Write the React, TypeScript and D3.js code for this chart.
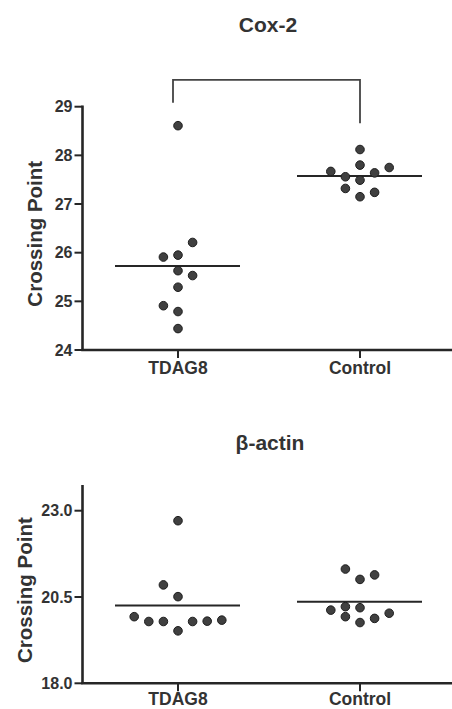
import React from "react";
import * as d3 from "d3";

const groups = ["TDAG8", "Control"];

// Cox-2 crossing points
const coxTDAG8 = [28.61, 26.21, 25.91, 25.95, 25.63, 25.53, 25.29, 24.91, 24.79, 24.44];
const coxTDAG8Slot = [0, 1, -1, 0, 0, 1, 0, -1, 0, 0];
const coxControl = [28.12, 27.8, 27.67, 27.64, 27.75, 27.56, 27.49, 27.32, 27.24, 27.15];
const coxControlSlot = [0, 0, -2, 1, 2, -1, 0, -1, 1, 0];
const coxTicks = [24, 25, 26, 27, 28, 29];

// beta-actin crossing points
const actTDAG8 = [22.71, 20.85, 20.51, 19.93, 19.79, 19.79, 19.52, 19.79, 19.8, 19.83];
const actTDAG8Slot = [0, -1, 0, -3, -2, -1, 0, 1, 2, 3];
const actControl = [21.31, 21.14, 21.01, 20.12, 20.22, 20.19, 20.03, 19.93, 19.88, 19.76];
const actControlSlot = [-1, 1, 0, -2, -1, 0, 2, -1, 1, 0];
const actTicks = [18.0, 20.5, 23.0];

const FONT = "'Liberation Sans', Arial, Helvetica, sans-serif";
const TEXT = "#333";
const AXIS = "#262626";
const SLOT = 14.6;

type PanelProps = {
  title: string;
  titleX: number;
  titleY: number;
  yDomain: [number, number];
  yRange: [number, number];
  axisTop: number;
  ticks: number[];
  tickFmt: (v: number) => string;
  series: { values: number[]; slots: number[] }[];
  yTitleX: number;
  labelY: number;
  bracket?: boolean;
};

function Panel(p: PanelProps) {
  const x = d3.scalePoint<string>().domain(groups).range([178, 360]);
  const y = d3.scaleLinear().domain(p.yDomain).range(p.yRange);
  const axisX = 82.5;
  const y0 = y(p.yDomain[0]);
  const yTitleCenter = (y0 + p.axisTop) / 2 + 6;
  return (
    <g>
      <text x={p.titleX} y={p.titleY} textAnchor="middle" fontFamily={FONT} fontWeight="bold" fontSize={21} fill={TEXT}>
        {p.title}
      </text>
      {/* axes */}
      <line x1={axisX} x2={axisX} y1={p.axisTop} y2={y0} stroke={AXIS} strokeWidth={2.6} />
      <line x1={axisX - 1.3} x2={452} y1={y0} y2={y0} stroke={AXIS} strokeWidth={2.6} />
      {p.ticks.map((t) => (
        <g key={t}>
          <line x1={axisX - 8} x2={axisX} y1={y(t)} y2={y(t)} stroke={AXIS} strokeWidth={2} />
          <text x={axisX - 10} y={y(t)} dy="0.36em" textAnchor="end" fontFamily={FONT} fontWeight="bold" fontSize={16} fill={TEXT}>
            {p.tickFmt(t)}
          </text>
        </g>
      ))}
      {groups.map((g) => (
        <g key={g}>
          <line x1={x(g)!} x2={x(g)!} y1={y0} y2={y0 + 8} stroke={AXIS} strokeWidth={2} />
          <text x={x(g)!} y={p.labelY} textAnchor="middle" fontFamily={FONT} fontWeight="bold" fontSize={17.5} fill={TEXT}>
            {g}
          </text>
        </g>
      ))}
      <text
        transform={`translate(${p.yTitleX},${yTitleCenter}) rotate(-90)`}
        textAnchor="middle"
        fontFamily={FONT}
        fontWeight="bold"
        fontSize={20.5}
        fill={TEXT}
      >
        Crossing Point
      </text>
      {/* data */}
      {p.series.map((s, gi) => {
        const cx = x(groups[gi])!;
        const mean = d3.mean(s.values)!;
        return (
          <g key={gi}>
            <line x1={cx - 63} x2={cx + 62} y1={y(mean)} y2={y(mean)} stroke={AXIS} strokeWidth={2} />
            {s.values.map((v, i) => (
              <circle key={i} cx={cx + s.slots[i] * SLOT} cy={y(v)} r={4.3} fill="#404040" stroke="#1e1e1e" strokeWidth={1} />
            ))}
          </g>
        );
      })}
      {p.bracket && (
        <path
          d={`M${x(groups[0])! - 5},${y(29.08)}V${y(29.55)}H${x(groups[1])!}V${y(28.66)}`}
          fill="none"
          stroke="#444"
          strokeWidth={1.8}
        />
      )}
    </g>
  );
}

export default function App() {
  return (
    <svg width={452} height={709} style={{ position: "absolute", left: 0, top: 0, background: "#fff" }}>
      <rect width={452} height={709} fill="#fff" />
      <Panel
        title="Cox-2"
        titleX={268}
        titleY={32}
        yDomain={[24, 29]}
        yRange={[350, 106.7]}
        axisTop={105.5}
        ticks={coxTicks}
        tickFmt={(v) => d3.format("d")(v)}
        series={[
          { values: coxTDAG8, slots: coxTDAG8Slot },
          { values: coxControl, slots: coxControlSlot },
        ]}
        yTitleX={42}
        labelY={374}
        bracket
      />
      <Panel
        title="β-actin"
        titleX={270}
        titleY={450}
        yDomain={[18, 23]}
        yRange={[683.3, 510.7]}
        axisTop={485}
        ticks={actTicks}
        tickFmt={(v) => d3.format(".1f")(v)}
        series={[
          { values: actTDAG8, slots: actTDAG8Slot },
          { values: actControl, slots: actControlSlot },
        ]}
        yTitleX={32}
        labelY={705}
      />
    </svg>
  );
}
